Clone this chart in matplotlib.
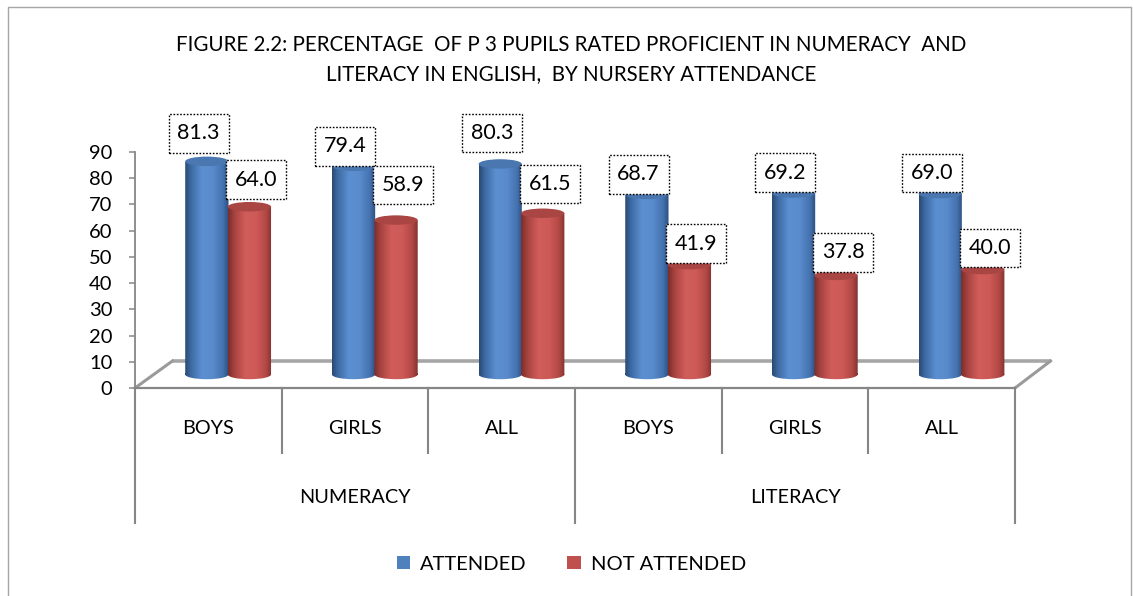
import numpy as np
import matplotlib
matplotlib.use("Agg")
import matplotlib.pyplot as plt
from matplotlib.patches import Rectangle, Ellipse, PathPatch, Patch
from matplotlib.path import Path
from matplotlib.colors import LinearSegmentedColormap

plt.rcParams['font.family'] = ['Lato', 'DejaVu Sans']

# ---------------- data ----------------
groups = ["NUMERACY", "LITERACY"]
categories = ["BOYS", "GIRLS", "ALL", "BOYS", "GIRLS", "ALL"]
attended = [81.3, 79.4, 80.3, 68.7, 69.2, 69.0]
not_attended = [64.0, 58.9, 61.5, 41.9, 37.8, 40.0]
series_names = ["ATTENDED", "NOT ATTENDED"]
yticks = [0, 10, 20, 30, 40, 50, 60, 70, 80, 90]
title_lines = ["FIGURE 2.2: PERCENTAGE  OF P 3 PUPILS RATED PROFICIENT IN NUMERACY  AND",
               "LITERACY IN ENGLISH,  BY NURSERY ATTENDANCE"]

# ---------------- style / geometry ----------------
W, H = 1133, 596
PX_X = 146.67          # px per category unit
PX_Y = 2.622           # px per value unit
X0, Y0 = 135, 388      # pixel position of data origin
blue = "#4F81BD"
red = "#C0504D"
grey = "#868686"
base = 5.15            # mid-depth of the floor
depth_dx, depth_dy = 0.255, 10.3
bar_w = 0.295
off_blue, off_red = 0.49, 0.78
lab_dx_blue, lab_dx_red = 0.433, 0.828
lab_dy_blue = [28, 20, 31, 20, 20.5, 20.6]   # px above cylinder top
lab_dy_red = [27, 35, 29, 21, 23, 21.6]
box_w, box_h = 60 / PX_X, 38.5 / PX_Y
ell_h = 3.6

fig = plt.figure(figsize=(W / 100, H / 100), dpi=100)
ax = fig.add_axes([0, 0, 1, 1])
xlim = (-X0 / PX_X, (W - X0) / PX_X)
ylim = ((Y0 - H) / PX_Y, Y0 / PX_Y)

# outer border
fig.patches.append(Rectangle((8 / W, -0.01), (1131 - 8) / W, 1.01 - 7 / H - 0.0,
                             transform=fig.transFigure, fill=False,
                             edgecolor="#a6a6a6", lw=1.0))

# floor
n = len(categories)
ax.plot([depth_dx, n + depth_dx * 0.95], [depth_dy, depth_dy], color="#a6a6a6", lw=2.6,
        solid_capstyle='butt', zorder=1)
ax.plot([0, depth_dx], [0, depth_dy], color="#9a9a9a", lw=2.2, zorder=1)
ax.plot([n, n + depth_dx * 0.95], [0, depth_dy], color="#9a9a9a", lw=2.2, zorder=1)
ax.plot([0, n], [0, 0], color=grey, lw=1.6, zorder=1)

# separators
for i in range(n + 1):
    long = (i % 3 == 0)
    ax.plot([i, i], [0, -51.5 if long else -24.8], color=grey, lw=1.5, zorder=1)

# category & group labels
for i, c in enumerate(categories):
    ax.text(i + 0.5, -15.3, c, ha='center', va='center', fontsize=14.3, color='black')
for g, name in enumerate(groups):
    ax.text(g * 3 + 1.5, -41.6, name, ha='center', va='center', fontsize=14.3, color='black')

# y axis
ax.spines['left'].set_position(('data', 0))
ax.spines['left'].set_bounds(0, 90)
ax.spines['left'].set_color(grey)
ax.spines['left'].set_linewidth(1.3)
for s in ['top', 'right', 'bottom']:
    ax.spines[s].set_visible(False)
ax.set_yticks(yticks)
ax.set_yticklabels([str(t) for t in yticks], fontsize=14.5)
ax.tick_params(axis='y', length=4.3, width=1.1, color=grey, pad=12)
ax.set_xticks([])

cmap_blue = LinearSegmentedColormap.from_list("b", [
    (0.0, "#2a4870"), (0.12, "#3b679f"), (0.38, "#5b8fd0"),
    (0.62, "#5a8ccd"), (0.86, "#4573b0"), (1.0, "#2c4e7e")])
cmap_red = LinearSegmentedColormap.from_list("r", [
    (0.0, "#7a2d2b"), (0.14, "#a5423f"), (0.4, "#d15d5a"),
    (0.64, "#ce5a57"), (0.87, "#b24845"), (1.0, "#7f3230")])
grad = np.linspace(0, 1, 256).reshape(1, -1)


def cylinder(xc, value, cmap, topc, z):
    bars = ax.bar([xc], [value], bottom=base, width=bar_w, color=cmap(0.5),
                  linewidth=0, zorder=z)
    r = bars[0]
    x0 = r.get_x()
    y0 = r.get_y()
    top = y0 + r.get_height()
    rect = Path([(x0, y0), (x0 + bar_w, y0), (x0 + bar_w, top), (x0, top), (x0, y0)],
                [Path.MOVETO, Path.LINETO, Path.LINETO, Path.LINETO, Path.CLOSEPOLY])
    e = Ellipse((xc, y0), bar_w, ell_h)
    epath = e.get_patch_transform().transform_path(e.get_path())
    clip = PathPatch(Path.make_compound_path(rect, epath), transform=ax.transData,
                     facecolor='none', edgecolor='none')
    ax.add_patch(clip)
    im = ax.imshow(grad, cmap=cmap, extent=(x0, x0 + bar_w, y0 - ell_h, top),
                   aspect='auto', zorder=z + 0.1, interpolation='bilinear')
    im.set_clip_path(clip)
    r.set_visible(False)
    ax.add_patch(Ellipse((xc, top), bar_w, ell_h, facecolor=topc, edgecolor='none',
                         zorder=z + 0.2))
    ax.add_patch(Ellipse((xc, top - 0.25), bar_w * 0.9, ell_h * 0.7, facecolor=topc,
                         edgecolor='none', alpha=0.6, zorder=z + 0.3))
    return top


for i in range(n):
    tb = cylinder(i + off_blue, attended[i], cmap_blue, "#4a77b0", 3)
    tr = cylinder(i + off_red, not_attended[i], cmap_red, "#a94643", 4)
    for xc, yc, val in [(i + lab_dx_blue, tb + lab_dy_blue[i] / PX_Y, attended[i]),
                        (i + lab_dx_red, tr + lab_dy_red[i] / PX_Y, not_attended[i])]:
        ax.add_patch(Rectangle((xc - box_w / 2, yc - box_h / 2), box_w, box_h,
                               facecolor='white', edgecolor='black', lw=1.0,
                               linestyle=(0, (1.2, 1.2)), zorder=6))
        ax.text(xc, yc, f"{val:.1f}", ha='center', va='center', fontsize=15.5,
                color='black', zorder=7)

# title
fig.text(571 / W, 1 - 45 / H, title_lines[0], ha='center', va='center', fontsize=14.8)
fig.text(571 / W, 1 - 74 / H, title_lines[1], ha='center', va='center', fontsize=14.8)

# legend
handles = [Patch(facecolor=blue, edgecolor='none'), Patch(facecolor=red, edgecolor='none')]
fig.legend(handles, series_names, loc='center', bbox_to_anchor=(571.5 / W, 32 / H),
           ncol=2, frameon=False, fontsize=14.5, handlelength=0.68, handleheight=0.68,
           handletextpad=0.5, columnspacing=2.0)

ax.set_xlim(*xlim)
ax.set_ylim(*ylim)
ax.set_facecolor('none')
fig.savefig("out.png", dpi=100, facecolor='white')
